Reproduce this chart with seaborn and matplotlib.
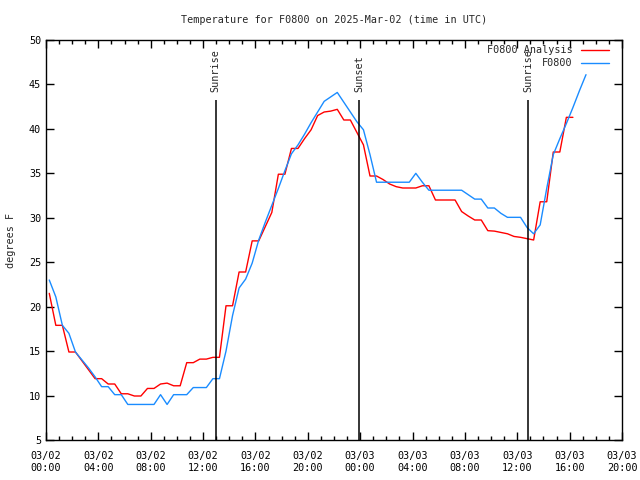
import numpy as np
import pandas as pd
import matplotlib
matplotlib.use("Agg")
import matplotlib.pyplot as plt
import matplotlib.dates as mdates
import seaborn as sns

# half-hourly samples, first one at 03/02 00:15 UTC
analysis_temp = [21.5, 17.9, 17.9, 14.9, 14.9, 13.9, 12.9, 11.9, 11.9, 11.3,
                 11.3, 10.2, 10.2, 9.95, 9.95, 10.8, 10.8, 11.3, 11.4, 11.1,
                 11.1, 13.7, 13.7, 14.1, 14.1, 14.3, 14.3, 20.1, 20.1, 23.9,
                 23.9, 27.4, 27.4, 29.0, 30.6, 34.9, 34.9, 37.8, 37.8, 38.9,
                 39.9, 41.5, 41.9, 42.0, 42.2, 41.0, 41.0, 39.6, 38.2, 34.7,
                 34.7, 34.3, 33.8, 33.5, 33.35, 33.35, 33.35, 33.6, 33.6, 32.0,
                 32.0, 32.0, 32.0, 30.7, 30.2, 29.75, 29.75, 28.55, 28.5, 28.35,
                 28.2, 27.9, 27.8, 27.65, 27.5, 31.8, 31.8, 37.4, 37.4, 41.3,
                 41.3]
obs_temp = [23.0, 21.1, 17.9, 17.0, 14.9, 14.0, 13.1, 12.1, 11.0, 11.0,
            10.1, 10.1, 9.0, 9.0, 9.0, 9.0, 9.0, 10.1, 9.0, 10.1,
            10.1, 10.1, 10.9, 10.9, 10.9, 11.9, 11.9, 15.0, 19.0, 22.1,
            23.1, 24.9, 27.5, 29.5, 31.4, 33.3, 35.3, 37.2, 38.2, 39.4,
            40.7, 41.9, 43.1, 43.6, 44.1, 43.0, 41.9, 40.8, 39.9, 37.1,
            34.0, 34.0, 34.0, 34.0, 34.0, 34.0, 35.0, 34.0, 33.1, 33.1,
            33.1, 33.1, 33.1, 33.1, 32.6, 32.1, 32.1, 31.1, 31.1, 30.5,
            30.05, 30.05, 30.05, 28.9, 28.2, 29.2, 33.3, 37.1, 38.9, 40.6,
            42.4, 44.3, 46.1]

sun_labels = ["Sunrise", "Sunset", "Sunrise"]
sun_times = ["2025-03-02 12:58", "2025-03-02 23:56", "2025-03-03 12:50"]

start = "2025-03-02 00:15"
df_an = pd.DataFrame({"time": pd.date_range(start, periods=len(analysis_temp), freq="30min"),
                      "temp": analysis_temp})
df_ob = pd.DataFrame({"time": pd.date_range(start, periods=len(obs_temp), freq="30min"),
                      "temp": obs_temp})

sns.set_theme(style="ticks")
plt.rcParams['font.family'] = ['DejaVu Sans Mono']
plt.rcParams['axes.linewidth'] = 1.0

fig = plt.figure(figsize=(6.4, 4.8), dpi=100)
ax = fig.add_axes([46/640, 40/480, 576/640, 400/480])

sns.lineplot(data=df_an, x="time", y="temp", color="#ff0000", lw=1.0,
             label="F0800 Analysis", ax=ax)
sns.lineplot(data=df_ob, x="time", y="temp", color="#1a8cff", lw=1.0,
             label="F0800", ax=ax)

# sunrise / sunset markers
for lab, t in zip(sun_labels, sun_times):
    t = pd.Timestamp(t)
    ax.vlines(t, 5, 43.3, color="black", lw=1.1)
    ax.text(t, 44.2, lab, rotation=90, ha="center", va="bottom", fontsize=7.3)

ax.set_xlim(pd.Timestamp("2025-03-02 00:00"), pd.Timestamp("2025-03-03 20:00"))
ax.set_ylim(5, 50)
ax.set_yticks(range(5, 51, 5))
ax.xaxis.set_major_locator(mdates.HourLocator(byhour=range(0, 24, 4)))
ax.xaxis.set_minor_locator(mdates.HourLocator())
ax.xaxis.set_major_formatter(mdates.DateFormatter("%m/%d\n%H:%M"))

ax.tick_params(which="both", direction="in", top=True, right=True, colors="black",
               labelsize=7.3)
ax.tick_params(which="major", length=6, width=1)
ax.tick_params(which="minor", length=3, width=1)
ax.tick_params(axis="x", which="major", pad=8)
for sp in ax.spines.values():
    sp.set_color("black")

ax.set_xlabel("")
ax.set_ylabel("degrees F", fontsize=7.3, labelpad=9)
ax.set_title("Temperature for F0800 on 2025-Mar-02 (time in UTC)", fontsize=7.3, pad=12)

ax.legend(loc="upper right", frameon=False, markerfirst=False, fontsize=7.3,
          handlelength=2.8, handletextpad=0.8, labelspacing=0.3,
          borderaxespad=0.3, bbox_to_anchor=(1 - 6/576, 1 + 2/400))

fig.savefig("out.png", dpi=100)
